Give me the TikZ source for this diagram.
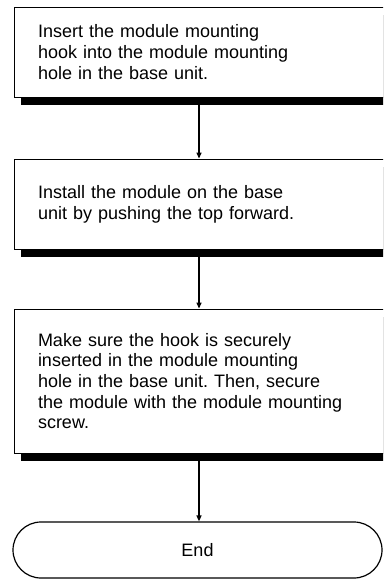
\documentclass[tikz,border=0pt]{standalone}
\usepackage{fontspec}
\setmainfont{Liberation Sans}
\frenchspacing
\usetikzlibrary{shadows,arrows.meta}
\begin{document}
\begin{tikzpicture}[x=1pt,y=-1pt,
  stepbox/.style={draw=black, line width=0.9pt, fill=white, minimum width=370pt,
    text width=322pt, inner xsep=24pt, inner ysep=0pt, align=left,
    font=\fontsize{18}{20.7}\selectfont,
    drop shadow={shadow xshift=7pt, shadow yshift=-8pt, fill=black, opacity=1}},
  termbox/.style={draw=black, line width=1.2pt, fill=white, rounded corners=28pt,
    minimum width=369pt, minimum height=56pt, inner sep=0pt,
    font=\fontsize{18}{20.7}\selectfont},
  flow/.style={line width=1.3pt, -{Triangle[length=6pt,width=5pt]}}]
\clip (0,0) rectangle (383,580);
\node[stepbox, minimum height=89.5pt] (b1) at (199,52.25)
  {Insert the module mounting\\hook into the module mounting\\hole in the base unit.};
\node[stepbox, minimum height=90pt] (b2) at (199,204)
  {Install the module on the base\\unit by pushing the top forward.};
\node[stepbox, minimum height=144pt] (b3) at (199,381)
  {Make sure the hook is securely\\inserted in the module mounting\\hole in the base unit. Then, secure\\the module with the module mounting\\screw.};
\node[termbox] (e) at (197.5,550) {End};
\draw[flow] ([yshift=-8pt]b1.south) -- (b2.north);
\draw[flow] ([yshift=-8pt]b2.south) -- (b3.north);
\draw[flow] ([yshift=-8pt]b3.south) -- (b3.south |- e.north);
\end{tikzpicture}
\end{document}
